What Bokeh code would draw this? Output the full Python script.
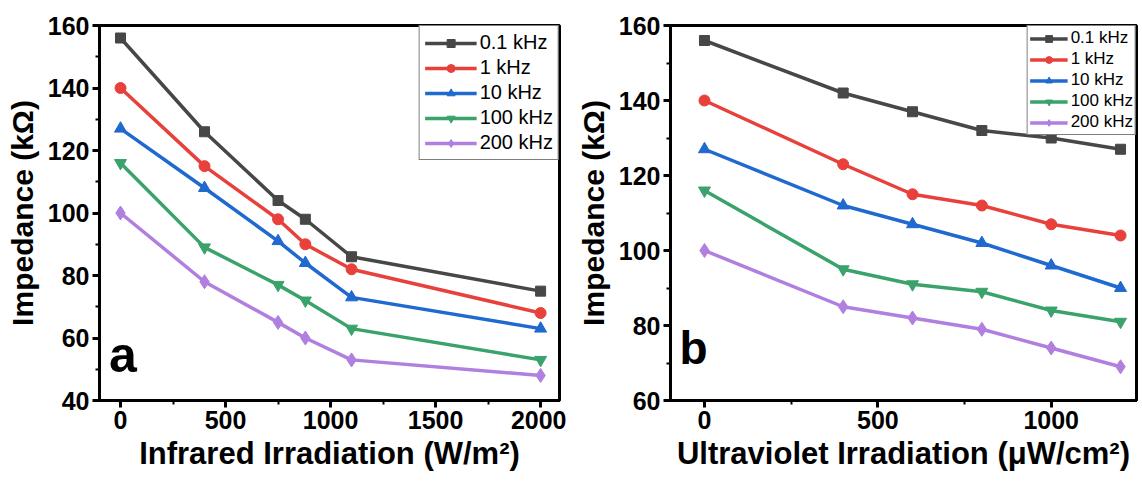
from bokeh.plotting import figure
from bokeh.layouts import row
from bokeh.models import FixedTicker, Range1d, Label
from bokeh.embed import file_html
from bokeh.resources import INLINE

# ---------------- data ----------------
series_names = ["0.1 kHz", "1 kHz", "10 kHz", "100 kHz", "200 kHz"]

ir_x = [0, 400, 750, 880, 1100, 2000]
ir_01k = [156, 126, 104, 98, 86, 75]
ir_1k = [140, 115, 98, 90, 82, 68]
ir_10k = [127, 108, 91, 84, 73, 63]
ir_100k = [116, 89, 77, 72, 63, 53]
ir_200k = [100, 78, 65, 60, 53, 48]

uv_x = [0, 400, 600, 800, 1000, 1200]
uv_01k = [156, 142, 137, 132, 130, 127]
uv_1k = [140, 123, 115, 112, 107, 104]
uv_10k = [127, 112, 107, 102, 96, 90]
uv_100k = [116, 95, 91, 89, 84, 81]
uv_200k = [100, 85, 82, 79, 74, 69]

ir_xticks = [0, 500, 1000, 1500, 2000]
ir_yticks = [40, 60, 80, 100, 120, 140, 160]
uv_xticks = [0, 500, 1000]
uv_yticks = [60, 80, 100, 120, 140, 160]

colors = ["#474747", "#e8403b", "#1f69cf", "#3aa26b", "#b07fdf"]
markers = ["square", "circle", "triangle", "inverted_triangle", "diamond"]
msizes = [10, 11, 12, 12, 14]

FONT = "Liberation Sans"


def make_panel(xs, ys_list, xr, yr, xticks, xminor, yticks, yminor, xlabel,
               letter, letter_pos, letter_size, frame_w, min_left, min_right,
               leg_font, glyph_w, glyph_h, leg_spacing, leg_pad):
    p = figure(frame_width=frame_w, frame_height=375,
               x_range=Range1d(*xr), y_range=Range1d(*yr),
               output_backend="svg", toolbar_location=None,
               min_border_left=min_left, min_border_right=min_right,
               min_border_top=25, min_border_bottom=70)
    p.grid.visible = False
    p.background_fill_color = "white"
    p.outline_line_color = "black"
    p.outline_line_width = 3
    p.outline_line_alpha = 1.0

    for name, ys, c, m, s in zip(series_names, ys_list, colors, markers, msizes):
        p.line(xs, ys, line_color=c, line_width=3.5, legend_label=name)
        p.scatter(xs, ys, marker=m, size=s, fill_color=c, line_color=c,
                  legend_label=name)

    p.xaxis.ticker = FixedTicker(ticks=xticks, minor_ticks=xminor)
    p.yaxis.ticker = FixedTicker(ticks=yticks, minor_ticks=yminor)
    for ax in (p.xaxis[0], p.yaxis[0]):
        ax.axis_line_width = 3
        ax.axis_line_color = "black"
        ax.major_tick_line_width = 3
        ax.major_tick_out = 7
        ax.major_tick_in = 0
        ax.minor_tick_line_width = 2
        ax.minor_tick_out = 4
        ax.minor_tick_in = 0
        ax.major_label_text_font = FONT
        ax.major_label_text_font_style = "bold"
        ax.major_label_text_font_size = "25px"
        ax.major_label_text_color = "black"
        ax.axis_label_text_font = FONT
        ax.axis_label_text_font_style = "bold"
        ax.axis_label_text_color = "black"
    p.xaxis.axis_label_text_font_size = "31px"
    p.yaxis.axis_label_text_font_size = "30px"
    p.xaxis.major_label_standoff = 3
    p.yaxis.major_label_standoff = 3
    p.xaxis.axis_label_standoff = 4
    p.yaxis.axis_label_standoff = 6
    p.xaxis.axis_label = xlabel
    p.yaxis.axis_label = "Impedance (kΩ)"

    lg = p.legend[0]
    lg.location = "top_right"
    lg.margin = 0
    lg.padding = leg_pad
    lg.spacing = leg_spacing
    lg.glyph_width = glyph_w
    lg.glyph_height = glyph_h
    lg.label_height = glyph_h
    lg.label_standoff = 3
    lg.label_text_font = FONT
    lg.label_text_font_size = leg_font
    lg.label_text_color = "black"
    lg.border_line_color = "black"
    lg.border_line_width = 1
    lg.background_fill_alpha = 1.0

    p.add_layout(Label(x=letter_pos[0], y=letter_pos[1], text=letter,
                       text_font=FONT, text_font_style="bold",
                       text_font_size=letter_size, text_color="black",
                       text_baseline="alphabetic"))
    return p


pa = make_panel(ir_x, [ir_01k, ir_1k, ir_10k, ir_100k, ir_200k],
                (-100, 2090), (40, 160), ir_xticks,
                [250, 750, 1250, 1750], ir_yticks,
                [50, 70, 90, 110, 130, 150],
                "Infrared Irradiation (W/m²)", "a", (-55, 54.5), "50px",
                460, 99, 7, "20px", 52, 20, 2, 5)

pb = make_panel(uv_x, [uv_01k, uv_1k, uv_10k, uv_100k, uv_200k],
                (-98, 1246), (60, 160), uv_xticks,
                [250, 750], uv_yticks,
                [70, 90, 110, 130, 150],
                "Ultraviolet Irradiation (μW/cm²)", "b", (-72, 74), "46px",
                466, 104, 3, "17px", 38, 17, 1, 2)

layout = row(pa, pb, spacing=0)
open("out.html", "w").write(file_html(layout, INLINE))
